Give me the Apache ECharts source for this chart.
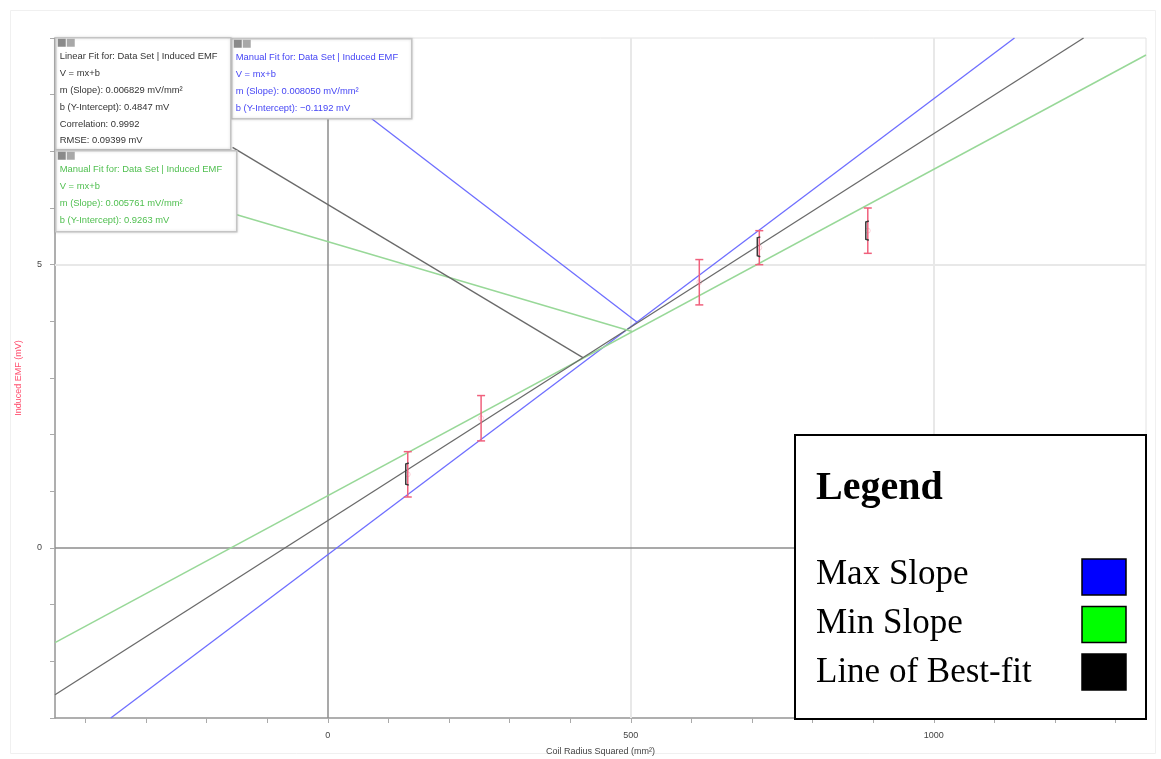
<!DOCTYPE html>
<html>
<head>
<meta charset="utf-8">
<title>Induced EMF vs Coil Radius Squared</title>
<script src="https://cdn.jsdelivr.net/npm/echarts@6/dist/echarts.min.js"></script>
<style>
  html, body { margin: 0; padding: 0; background: #fff; }
  #chart { width: 1161px; height: 759px; }
</style>
</head>
<body>
<div id="chart"></div>
<script>
'use strict';
/* Induced EMF vs coil radius squared, with max / min / best-fit lines */

// measured points
var radiusSq = [132, 253, 613, 712, 891];
var emf = [1.30, 2.29, 4.69, 5.30, 5.60];
var emfErr = [0.40, 0.40, 0.40, 0.30, 0.40];
// small dark bracket marks on some points (null = none)
var bracketLow = [1.11, null, null, 5.14, 5.43];
var bracketHigh = [1.50, null, null, 5.49, 5.77];

// fitted lines, endpoints
var bestFitLine = [[-450, -2.59], [1247, 9]];
var maxSlopeLine = [[-358, -3], [1133, 9]];
var minSlopeLine = [[-450, -1.67], [1350, 8.70]];

// leader lines from the fit boxes to their lines
var bestFitLeader = [[-157, 7.07], [421, 3.36]];
var maxSlopeLeader = [[71, 7.59], [510, 3.99]];
var minSlopeLeader = [[-150, 5.88], [502, 3.82]];

// axes
var xTicks = [-400, -300, -200, -100, 0, 100, 200, 300, 400, 500, 600, 700, 800, 900, 1000, 1100, 1200, 1300];
var xLabels = [0, 500, 1000];
var xGrid = [500, 1000];
var yGrid = [5];

// fit boxes text
var bestFitText = ['Linear Fit for: Data Set | Induced EMF', 'V = mx+b', 'm (Slope): 0.006829 mV/mm²',
  'b (Y-Intercept): 0.4847 mV', 'Correlation: 0.9992', 'RMSE: 0.09399 mV'];
var maxSlopeText = ['Manual Fit for: Data Set | Induced EMF', 'V = mx+b', 'm (Slope): 0.008050 mV/mm²',
  'b (Y-Intercept): −0.1192 mV'];
var minSlopeText = ['Manual Fit for: Data Set | Induced EMF', 'V = mx+b', 'm (Slope): 0.005761 mV/mm²',
  'b (Y-Intercept): 0.9263 mV'];

var legendNames = ['Max Slope', 'Min Slope', 'Line of Best-fit'];
var legendColors = ['#0000ff', '#00ff00', '#000000'];

var BLUE = '#6e6eff';
var GREEN = '#98d898';
var GREY = '#6a6a6a';
var RED = '#f0607c';

var errData = [];
var bracketData = [];
for (var i = 0; i < radiusSq.length; i++) {
  errData.push([radiusSq[i], emf[i] - emfErr[i], emf[i] + emfErr[i]]);
  if (bracketLow[i] !== null) {
    bracketData.push([radiusSq[i], bracketLow[i], bracketHigh[i]]);
  }
}
var pointData = radiusSq.map(function(x, i) { return [x, emf[i]]; });

function lineSeries(name, data, color, width) {
  return {
    name: name,
    type: 'line',
    data: data,
    symbol: 'none',
    silent: true,
    clip: true,
    z: 3,
    lineStyle: { color: color, width: width }
  };
}

// fit info box as graphic group
function fitBox(left, top, width, height, lines, color) {
  var children = [{
    type: 'rect', z: 100,
    shape: { x: 0, y: 0, width: width, height: height },
    style: { fill: '#fff', stroke: '#c4c4c4', lineWidth: 1.5, shadowBlur: 3, shadowColor: 'rgba(0,0,0,0.15)' }
  }, {
    type: 'rect', z: 101,
    shape: { x: 2, y: 1, width: 8, height: 8 },
    style: { fill: '#8a8a8a' }
  }, {
    type: 'rect', z: 101,
    shape: { x: 11, y: 1, width: 8, height: 8 },
    style: { fill: '#a8a8a8' }
  }];
  for (var k = 0; k < lines.length; k++) {
    children.push({
      type: 'text', z: 101,
      style: {
        x: 4, y: 19 + k * 16.8, text: lines[k], fill: color,
        font: '9.4px "Liberation Sans", Arial, sans-serif', verticalAlign: 'middle'
      }
    });
  }
  return { type: 'group', left: left, top: top, z: 100, children: children };
}

// legend box drawn like the pasted one
var legendChildren = [{
  type: 'rect', z: 100,
  shape: { x: 0, y: 0, width: 351, height: 284 },
  style: { fill: '#fff', stroke: '#000', lineWidth: 2 }
}, {
  type: 'text', z: 101,
  style: { x: 21, y: 54, text: 'Legend', fill: '#000', font: 'bold 40px "Liberation Serif", serif', verticalAlign: 'middle' }
}];
for (var j = 0; j < legendNames.length; j++) {
  legendChildren.push({
    type: 'text', z: 101,
    style: { x: 21, y: 139.5 + j * 49, text: legendNames[j], fill: '#000', font: '35px "Liberation Serif", serif', verticalAlign: 'middle' }
  });
  legendChildren.push({
    type: 'rect', z: 101,
    shape: { x: 287, y: 124 + j * 47.5, width: 44, height: 36 },
    style: { fill: legendColors[j], stroke: '#000', lineWidth: 1.5 }
  });
}

var chart = echarts.init(document.getElementById('chart'));
var option = {
  animation: false,
  backgroundColor: '#fff',
  grid: {
    left: 55, right: 15, top: 38, bottom: 41,
    containLabel: false,
    outerBoundsMode: 'none',
    show: true, borderColor: '#e2e2e2', borderWidth: 1
  },
  xAxis: {
    type: 'value',
    min: -450,
    max: 1350,
    name: 'Coil Radius Squared (mm²)',
    nameLocation: 'middle',
    nameGap: 29,
    nameTextStyle: { fontSize: 9, color: '#444', fontFamily: 'Liberation Sans' },
    axisLine: { onZero: false, lineStyle: { color: '#999', width: 1.5 } },
    axisTick: { show: true, customValues: xTicks, length: 5, lineStyle: { color: '#aaa' } },
    axisLabel: {
      customValues: xLabels, fontSize: 9, color: '#444', margin: 13, fontFamily: 'Liberation Sans',
      formatter: function(v) { return String(v); }
    },
    splitLine: { show: false }
  },
  yAxis: {
    type: 'value',
    min: -3,
    max: 9,
    interval: 1,
    name: 'Induced EMF (mV)',
    nameLocation: 'middle',
    nameGap: 32,
    nameTextStyle: { fontSize: 9, color: '#ff4d6d', fontFamily: 'Liberation Sans' },
    axisLine: { onZero: false, lineStyle: { color: '#999', width: 1.5 } },
    axisTick: { show: true, length: 5, lineStyle: { color: '#aaa' } },
    axisLabel: {
      fontSize: 9, color: '#444', margin: 13, fontFamily: 'Liberation Sans',
      formatter: function(v) { return v % 5 === 0 ? String(v) : ''; }
    },
    splitLine: { show: false }
  },
  series: [{
    // grid lines and zero lines
    name: 'grid',
    type: 'line',
    data: [],
    silent: true,
    z: 1,
    markLine: {
      z: 1,
      silent: true,
      symbol: 'none',
      label: { show: false },
      lineStyle: { color: '#e8e8e8', width: 2, type: 'solid' },
      data: xGrid.map(function(v) { return { xAxis: v }; })
        .concat(yGrid.map(function(v) { return { yAxis: v }; }))
        .concat([
          { xAxis: 0, lineStyle: { color: '#8c8c8c', width: 1.5 } },
          { yAxis: 0, lineStyle: { color: '#8c8c8c', width: 1.5 } }
        ])
    }
  },
  lineSeries('Max Slope', maxSlopeLine, BLUE, 1.3),
  lineSeries('Min Slope', minSlopeLine, GREEN, 1.5),
  lineSeries('Line of Best-fit', bestFitLine, GREY, 1.3),
  lineSeries('Max Slope leader', maxSlopeLeader, BLUE, 1.3),
  lineSeries('Min Slope leader', minSlopeLeader, GREEN, 1.5),
  lineSeries('Best-fit leader', bestFitLeader, GREY, 1.3),
  {
    name: 'error',
    type: 'custom',
    data: errData,
    z: 5,
    renderItem: function(params, api) {
      var top = api.coord([api.value(0), api.value(2)]);
      var bot = api.coord([api.value(0), api.value(1)]);
      var cap = 4;
      var st = { stroke: RED, lineWidth: 1.5 };
      return {
        type: 'group',
        children: [
          { type: 'line', shape: { x1: top[0], y1: top[1], x2: bot[0], y2: bot[1] }, style: st },
          { type: 'line', shape: { x1: top[0] - cap, y1: top[1], x2: top[0] + cap, y2: top[1] }, style: st },
          { type: 'line', shape: { x1: bot[0] - cap, y1: bot[1], x2: bot[0] + cap, y2: bot[1] }, style: st }
        ]
      };
    }
  }, {
    name: 'bracket',
    type: 'custom',
    data: bracketData,
    z: 6,
    renderItem: function(params, api) {
      var top = api.coord([api.value(0), api.value(2)]);
      var bot = api.coord([api.value(0), api.value(1)]);
      var x = top[0] - 2;
      return {
        type: 'polyline',
        shape: { points: [[x + 3, top[1]], [x, top[1] + 1], [x, bot[1] - 1], [x + 3, bot[1]]] },
        style: { stroke: '#3a3a3a', lineWidth: 1.5, fill: null }
      };
    }
  }, {
    name: 'points',
    type: 'scatter',
    data: pointData,
    symbolSize: 5,
    z: 4,
    itemStyle: { color: 'rgba(0,0,0,0)', borderColor: 'rgba(240,96,124,0.35)', borderWidth: 1 }
  }],
  graphic: [
    {
      type: 'rect', left: 8, top: 8, z: -1,
      shape: { width: 1145, height: 743 },
      style: { fill: null, stroke: '#f0f0f0', lineWidth: 1 }
    },
    fitBox(231, 38, 180, 80, maxSlopeText, '#4646f5'),
    fitBox(55, 37, 175, 112, bestFitText, '#333'),
    fitBox(55, 150, 181, 81, minSlopeText, '#4fbf4f'),
    { type: 'group', left: 794, top: 434, z: 100, children: legendChildren }
  ]
};
chart.setOption(option);
</script>
</body>
</html>
